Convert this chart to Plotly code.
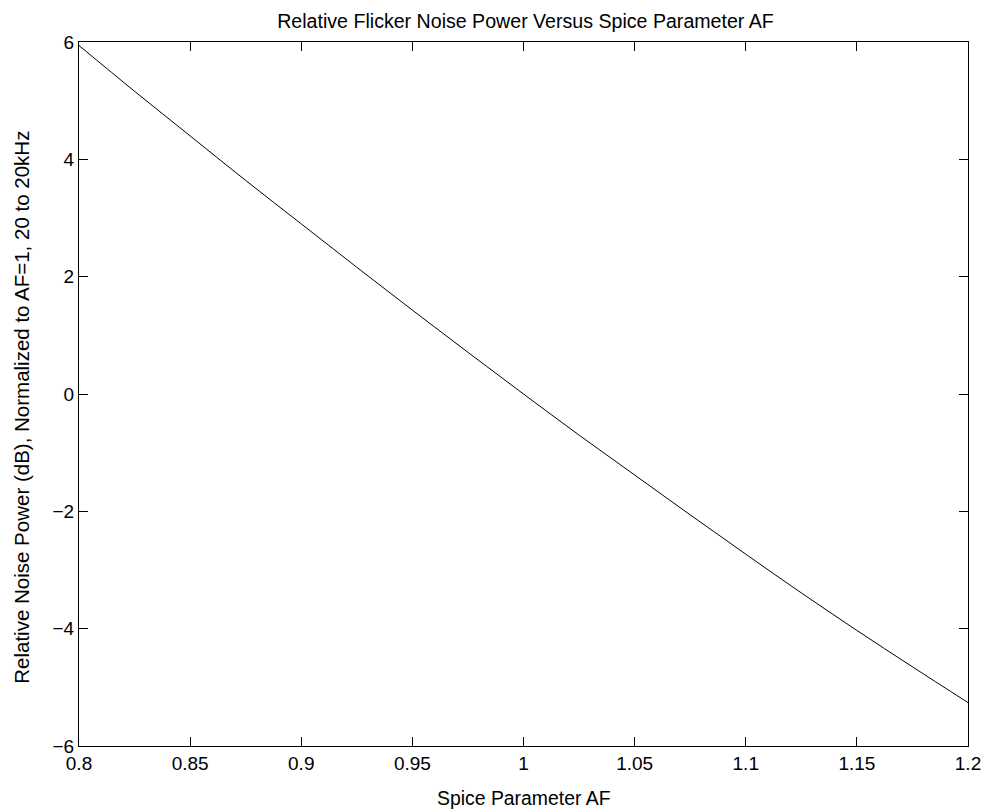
import plotly.graph_objects as go

af = [0.8, 0.825, 0.85, 0.875, 0.9, 0.925, 0.95, 0.975, 1.0,
      1.025, 1.05, 1.075, 1.1, 1.125, 1.15, 1.175, 1.2]
rel_db = [5.94, 5.16, 4.40, 3.64, 2.90, 2.16, 1.43, 0.71, 0.0,
          -0.70, -1.38, -2.06, -2.73, -3.39, -4.03, -4.65, -5.26]

x_ticks = [0.8, 0.85, 0.9, 0.95, 1.0, 1.05, 1.1, 1.15, 1.2]
x_labels = ["0.8", "0.85", "0.9", "0.95", "1", "1.05", "1.1", "1.15", "1.2"]
y_ticks = [-6, -4, -2, 0, 2, 4, 6]
y_labels = ["\u22126", "\u22124", "\u22122", "0", "2", "4", "6"]

FAM = "Liberation Sans, Arial, Helvetica, sans-serif"
W, H = 993, 812
ML, MR, MT, MB = 79, 21, 42, 66
PW, PH = W - ML - MR, H - MT - MB

fig = go.Figure()
fig.add_trace(go.Scatter(x=af, y=rel_db, mode="lines",
                         line=dict(color="black", width=1), line_shape="spline",
                         showlegend=False, hoverinfo="skip"))

axis_common = dict(showline=True, linecolor="black", linewidth=1, mirror="ticks",
                   ticks="inside", ticklen=9, tickcolor="black", tickwidth=1,
                   showgrid=False, zeroline=False,
                   tickfont=dict(family=FAM, size=19, color="black"))

fig.update_layout(
    width=W, height=H,
    margin=dict(l=ML, r=MR, t=MT, b=MB),
    paper_bgcolor="white", plot_bgcolor="white",
    font=dict(family=FAM, size=19, color="black"),
    title=dict(text="Relative Flicker Noise Power Versus Spice Parameter AF",
               x=(ML + PW / 2) / W, xref="container", xanchor="center",
               y=1 - 21 / H, yref="container", yanchor="middle",
               font=dict(family=FAM, size=19.6, color="black")),
    xaxis=dict(range=[0.8, 1.2], tickvals=x_ticks, ticktext=x_labels, **axis_common),
    yaxis=dict(range=[-6, 6], tickvals=y_ticks, ticktext=y_labels, **axis_common),
    annotations=[
        dict(text="Spice Parameter AF", xref="paper", yref="paper",
             x=0.5, y=-(798 - (H - MB)) / PH, xanchor="center", yanchor="middle",
             showarrow=False, font=dict(family=FAM, size=19.4, color="black")),
        dict(text="Relative Noise Power (dB), Normalized to AF=1, 20 to 20kHz",
             xref="paper", yref="paper", textangle=-90,
             x=(21 - ML) / PW, y=((H - MB) - 407.5) / PH,
             xanchor="center", yanchor="middle",
             showarrow=False, font=dict(family=FAM, size=20.5, color="black")),
    ],
)

fig.write_html("out.html")
